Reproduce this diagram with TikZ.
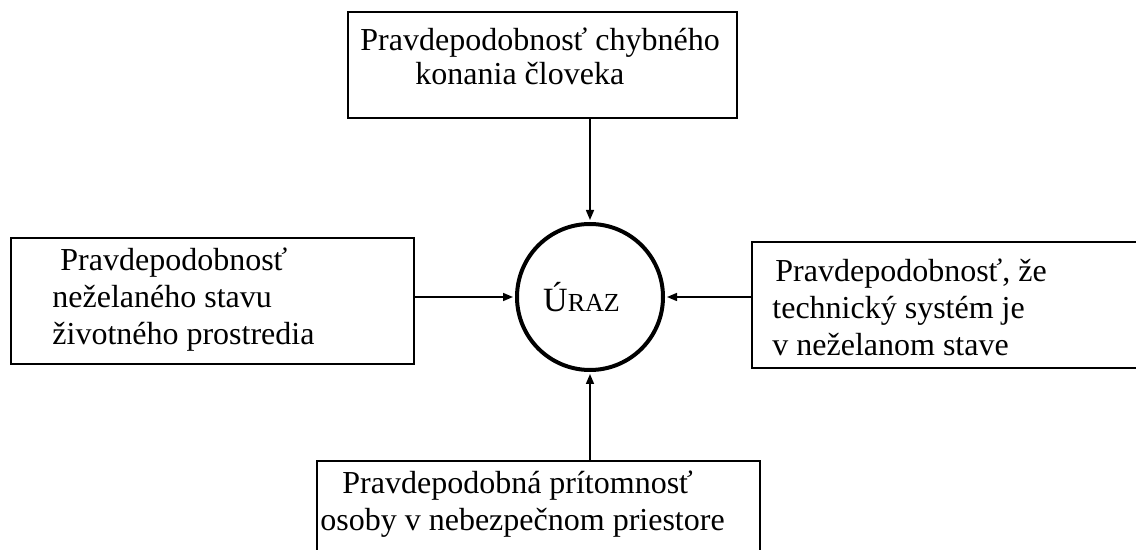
\documentclass[tikz,border=0pt]{standalone}
\usepackage{fontspec}
\setmainfont{Liberation Serif}
\usetikzlibrary{arrows.meta}

\begin{document}
\begin{tikzpicture}[x=0.5pt,y=-0.5pt,
  factor/.style={draw,line width=1pt,inner sep=0pt},
  factortext/.style={anchor=north west,inner sep=0pt,align=left,font=\fontsize{16}{18.5}\selectfont},
  event/.style={draw,circle,line width=2pt,minimum size=73pt,inner sep=0pt,font=\fontsize{17}{19}\selectfont}]
\useasboundingbox (0,0) rectangle (1136,550);
\clip (0,0) rectangle (1136,550);
% boxes
\node[factor,minimum width=194.5pt,minimum height=53pt] (human) at (542.5,65) {};
\node[factor,minimum width=201.5pt,minimum height=63pt] (env) at (212.5,301) {};
\node[factor,minimum width=204pt,minimum height=63pt] (tech) at (956,305) {};
\node[factor,minimum width=221.5pt,minimum height=69.5pt] (person) at (538.5,530.5) {};
% texts
\node[factortext,font=\fontsize{16}{17}\selectfont] (human-text) at (360,27)
  {Pravdepodobnosť chybného\\\hspace*{27.5pt}konania človeka};
\node[factortext] (env-text) at (52,247)
  {\hspace*{4pt}Pravdepodobnosť\\neželaného stavu\\životného prostredia};
\node[factortext] (tech-text) at (772,258)
  {\hspace*{1.5pt}Pravdepodobnosť, že\\technický systém je\\v neželanom stave};
\node[factortext] (person-text) at (320,470)
  {\hspace*{11pt}Pravdepodobná prítomnosť\\osoby v nebezpečnom priestore};
% centre
\node[event] (injury) at (590,297) {Ú{\fontsize{13}{15}\selectfont RAZ}\hspace*{8.5pt}};
\path[-{Triangle[length=5pt,width=4pt]},line width=0.75pt,shorten >=1pt]
(injury.north |- human.south) edge (injury.north)
(injury.west -| env.east)     edge (injury.west)
(injury.east -| tech.west)    edge (injury.east)
(injury.south |- person.north) edge (injury.south)
;
\end{tikzpicture}
\end{document}
